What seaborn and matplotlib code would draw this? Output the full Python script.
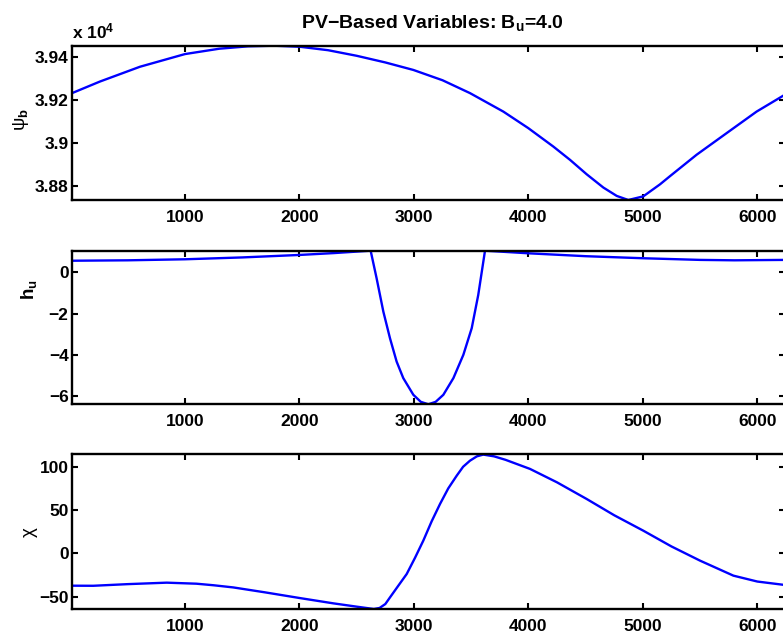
import numpy as np
import pandas as pd
import matplotlib
matplotlib.use("Agg")
import matplotlib.pyplot as plt
import seaborn as sns

# ---- data ----
psi_x = [13, 257, 607, 1000, 1300, 1550, 1780, 2005, 2250, 2500, 2750, 2995, 3250,
         3490, 3781, 3999, 4218, 4364, 4509, 4655, 4772, 4873, 5004, 5150, 5237,
         5470, 5733, 5994, 6242]
psi_v = [39233, 39287, 39356, 39415, 39440, 39451, 39454, 39449, 39433, 39407, 39376,
         39341, 39293, 39233, 39147, 39070, 38984, 38922, 38855, 38793, 38754, 38735,
         38752, 38808, 38846, 38946, 39047, 39147, 39226]

hu_x = [13, 500, 1000, 1500, 2000, 2300, 2622, 2674, 2733, 2791, 2849, 2907, 2995,
        3060, 3126, 3190, 3257, 3345, 3432, 3505, 3562, 3621, 4000, 4500, 5004, 5500,
        5800, 6242]
hu_v = [0.56, 0.58, 0.63, 0.72, 0.84, 0.93, 1.046, -0.29, -1.91, -3.20, -4.33, -5.13,
        -5.94, -6.28, -6.40, -6.28, -5.94, -5.13, -4.00, -2.71, -1.10, 1.046, 0.92,
        0.78, 0.68, 0.60, 0.58, 0.60]

chi_x = [13, 198, 500, 840, 1100, 1250, 1422, 1700, 2000, 2297, 2500, 2600, 2650, 2700,
         2750, 2791, 2860, 2937, 3010, 3082, 3155, 3228, 3300, 3374, 3430, 3490, 3550,
         3606, 3700, 3800, 4014, 4250, 4509, 4750, 5004, 5250, 5500, 5791, 6000, 6242]
chi_v = [-37.3, -37.4, -35.5, -33.8, -35.0, -36.8, -39.3, -45, -51.5, -57.7, -61.5,
         -63.3, -64.2, -63.0, -58.5, -50.8, -38, -23.8, -5, 14.7, 37, 57, 75, 89.7, 100,
         107, 112, 114, 112, 108, 97.5, 82, 62.8, 44, 26.2, 8, -8.4, -25.7, -32.5, -36.5]

x_ticks = [1000, 2000, 3000, 4000, 5000, 6000]
psi_ticks = [3.88, 3.90, 3.92, 3.94]
psi_ticklabels = ["3.88", "3.9", "3.92", "3.94"]
hu_ticks = [-6, -4, -2, 0]
hu_ticklabels = ["\u22126", "\u22124", "\u22122", "0"]
chi_ticks = [-50, 0, 50, 100]
chi_ticklabels = ["\u221250", "0", "50", "100"]

title = "PV\u2212Based Variables: B$_\\mathbf{u}$=4.0"

# ---- styling ----
sns.set_style("ticks")
plt.rcParams['font.family'] = ['Liberation Sans', 'DejaVu Sans']
plt.rcParams['font.weight'] = 'bold'
plt.rcParams['mathtext.fontset'] = 'custom'
plt.rcParams['mathtext.rm'] = 'Liberation Sans'
plt.rcParams['mathtext.bf'] = 'Liberation Sans:bold'
plt.rcParams['mathtext.it'] = 'Liberation Sans:italic'
plt.rcParams['axes.unicode_minus'] = True
for k in ['text.color', 'axes.labelcolor', 'xtick.color', 'ytick.color',
          'axes.edgecolor']:
    plt.rcParams[k] = 'black'

W, H = 783, 639
fig = plt.figure(figsize=(W / 100, H / 100), dpi=100)

def frac_box(left, right, top, bottom):
    return [left / W, 1 - bottom / H, (right - left) / W, (bottom - top) / H]

XL = (12.8, 6242)
FS = 12.5
line_color = "#0000FF"

panels = [
    (frac_box(72, 785, 45.7, 200), np.array(psi_x), np.array(psi_v) / 1e4,
     (3.8735, 3.9454), psi_ticks, psi_ticklabels),
    (frac_box(72, 785, 250.7, 404.3), np.array(hu_x), np.array(hu_v),
     (-6.40, 1.046), hu_ticks, hu_ticklabels),
    (frac_box(72, 785, 454, 609), np.array(chi_x), np.array(chi_v),
     (-64.2, 114.7), chi_ticks, chi_ticklabels),
]

for box, xs, ys, ylim, yt, ytl in panels:
    ax = fig.add_axes(box)
    df = pd.DataFrame({"x": xs, "y": ys})
    sns.lineplot(data=df, x="x", y="y", ax=ax, color=line_color, linewidth=1.7,
                 sort=False, estimator=None, solid_joinstyle="round")
    ax.set_xlim(*XL)
    ax.set_ylim(*ylim)
    ax.set_xticks(x_ticks)
    ax.set_xticklabels([str(t) for t in x_ticks])
    ax.set_yticks(yt)
    ax.set_yticklabels(ytl)
    ax.set_xlabel("")
    ax.set_ylabel("")
    for s in ax.spines.values():
        s.set_visible(True)
        s.set_linewidth(1.7)
        s.set_color("black")
    ax.tick_params(direction="in", length=4.5, width=1.5, top=True, right=True,
                   labelsize=FS, colors="black")
    ax.tick_params(axis="x", pad=7)
    ax.tick_params(axis="y", pad=2.5)
    for lab in ax.get_xticklabels() + ax.get_yticklabels():
        lab.set_fontweight("bold")

# y labels (Greek letters upright, normal weight as in the reference)
fig.text(21 / W, 1 - 120 / H, "\u03c8$_\\mathbf{b}$", rotation=90, fontsize=FS + 1,
         fontweight="normal", ha="center", va="center")
fig.text(29 / W, 1 - 290 / H, r"$\mathbf{h_u}$", rotation=90, fontsize=FS + 1,
         ha="center", va="center")
fig.text(29 / W, 1 - 532 / H, "\u03c7", rotation=90, fontsize=FS + 1,
         fontweight="normal", ha="center", va="center")

# exponent label
fig.text(72 / W, 1 - 38 / H, r"x 10$^\mathbf{4}$", fontsize=FS, fontweight="bold",
         ha="left", va="baseline")

# title
fig.text(432 / W, 1 - 28 / H, title, fontsize=14, fontweight="bold",
         ha="center", va="baseline")

fig.savefig("out.png", dpi=100)
